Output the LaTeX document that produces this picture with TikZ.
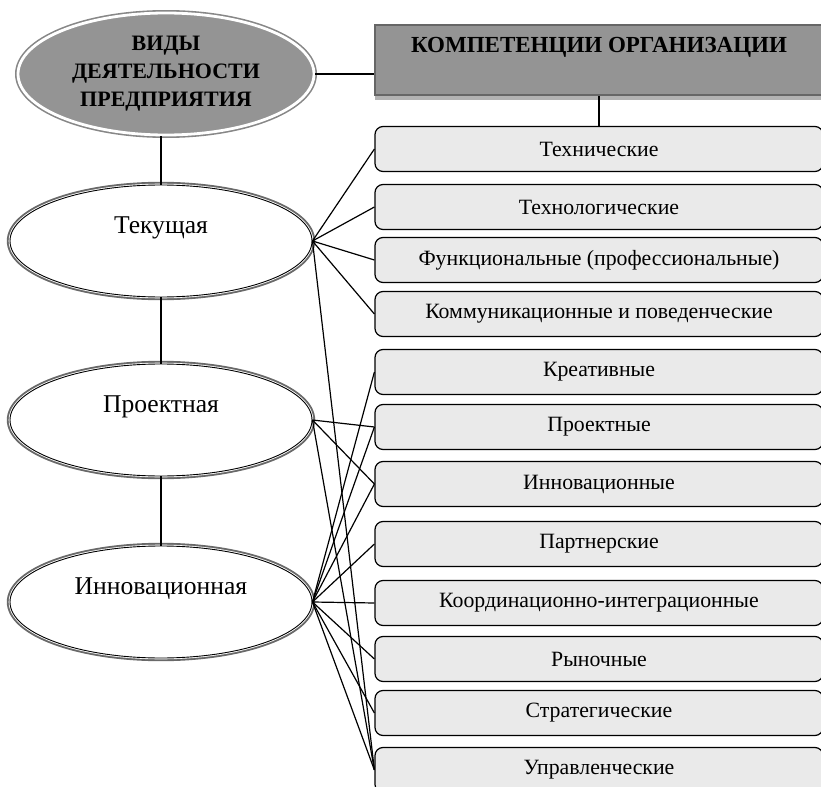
\documentclass[tikz,border=0pt]{standalone}
\usepackage{fontspec}
\setmainfont{Liberation Serif}
\usetikzlibrary{positioning,shapes.geometric,shadows}
\definecolor{fondcase}{RGB}{234,234,234}
\definecolor{gristitre}{RGB}{148,148,148}
\definecolor{bordgris}{RGB}{105,105,105}

\begin{document}
\begin{tikzpicture}[x=0.5pt,y=-0.5pt,
  titre/.style={ellipse,fill=gristitre,draw=white,line width=1.4pt,
    preaction={draw=bordgris!80,line width=3pt},inner sep=0pt,
    minimum width=148pt,minimum height=61pt,align=center,
    font=\bfseries\fontsize{11}{14}\selectfont},
  oval/.style={ellipse,fill=white,draw=black,line width=0.45pt,
    preaction={draw=bordgris,line width=3.2pt},
    preaction={draw=white,line width=1.3pt},inner sep=0pt,
    minimum width=151pt,minimum height=56pt,text height=8pt,text depth=16pt,
    font=\fontsize{12.8}{15}\selectfont},
  entete/.style={rectangle,fill=gristitre,draw=black!60,line width=0.9pt,
    drop shadow={shadow xshift=0pt,shadow yshift=-2.5pt,fill=black!60},
    minimum width=224pt,minimum height=35pt,inner sep=0pt,
    text height=8pt,text depth=15pt,font=\bfseries\fontsize{11.5}{14}\selectfont},
  comp/.style={rectangle,rounded corners=4pt,draw=black,line width=0.6pt,
    fill=fondcase,minimum width=224pt,minimum height=22.5pt,inner sep=0pt,
    font=\fontsize{10.9}{12}\selectfont},
  lien/.style={draw=black,line width=0.6pt}]
  \useasboundingbox (0,0) rectangle (821,787);

  % types of activity
  \node[titre] (vid) at (166,74) {ВИДЫ\\ДЕЯТЕЛЬНОСТИ\\ПРЕДПРИЯТИЯ};
  \node[oval] (tek) at (161,241) {Текущая};
  \node[oval] (pro) at (161,420) {Проектная};
  \node[oval] (inn) at (161,602) {Инновационная};

  % competences
  \node[entete] (komp) at (599,60) {КОМПЕТЕНЦИИ ОРГАНИЗАЦИИ};
  \foreach \n/\yy/\txt in {1/149/Технические,2/207/Технологические,
      3/260/{Функциональные (профессиональные)},4/314/{Коммуникационные и поведенческие},
      5/372/Креативные,6/427/Проектные,7/484/Инновационные,8/544/Партнерские,
      9/603/Координационно-интеграционные,10/659/Рыночные,11/713/Стратегические,
      12/770/Управленческие}
    \node[comp] (c\n) at (599,\yy) {\txt};

  \draw[lien] (vid.east) -- (vid.east -| komp.west);
  \draw[lien] (c1.north) -- (c1.north |- komp.south);
  \draw[lien] (tek.north) -- (tek.north |- vid.south);
  \draw[lien] (pro.north) -- (tek.south);
  \draw[lien] (inn.north) -- (pro.south);

  \foreach \b in {1,2,3,4,12}
    \draw[lien] (tek.east) -- (c\b.west);
  \foreach \b in {6,7,12}
    \draw[lien] (pro.east) -- (c\b.west);
  \foreach \b in {5,...,12}
    \draw[lien] (inn.east) -- (c\b.west);
\end{tikzpicture}
\end{document}
